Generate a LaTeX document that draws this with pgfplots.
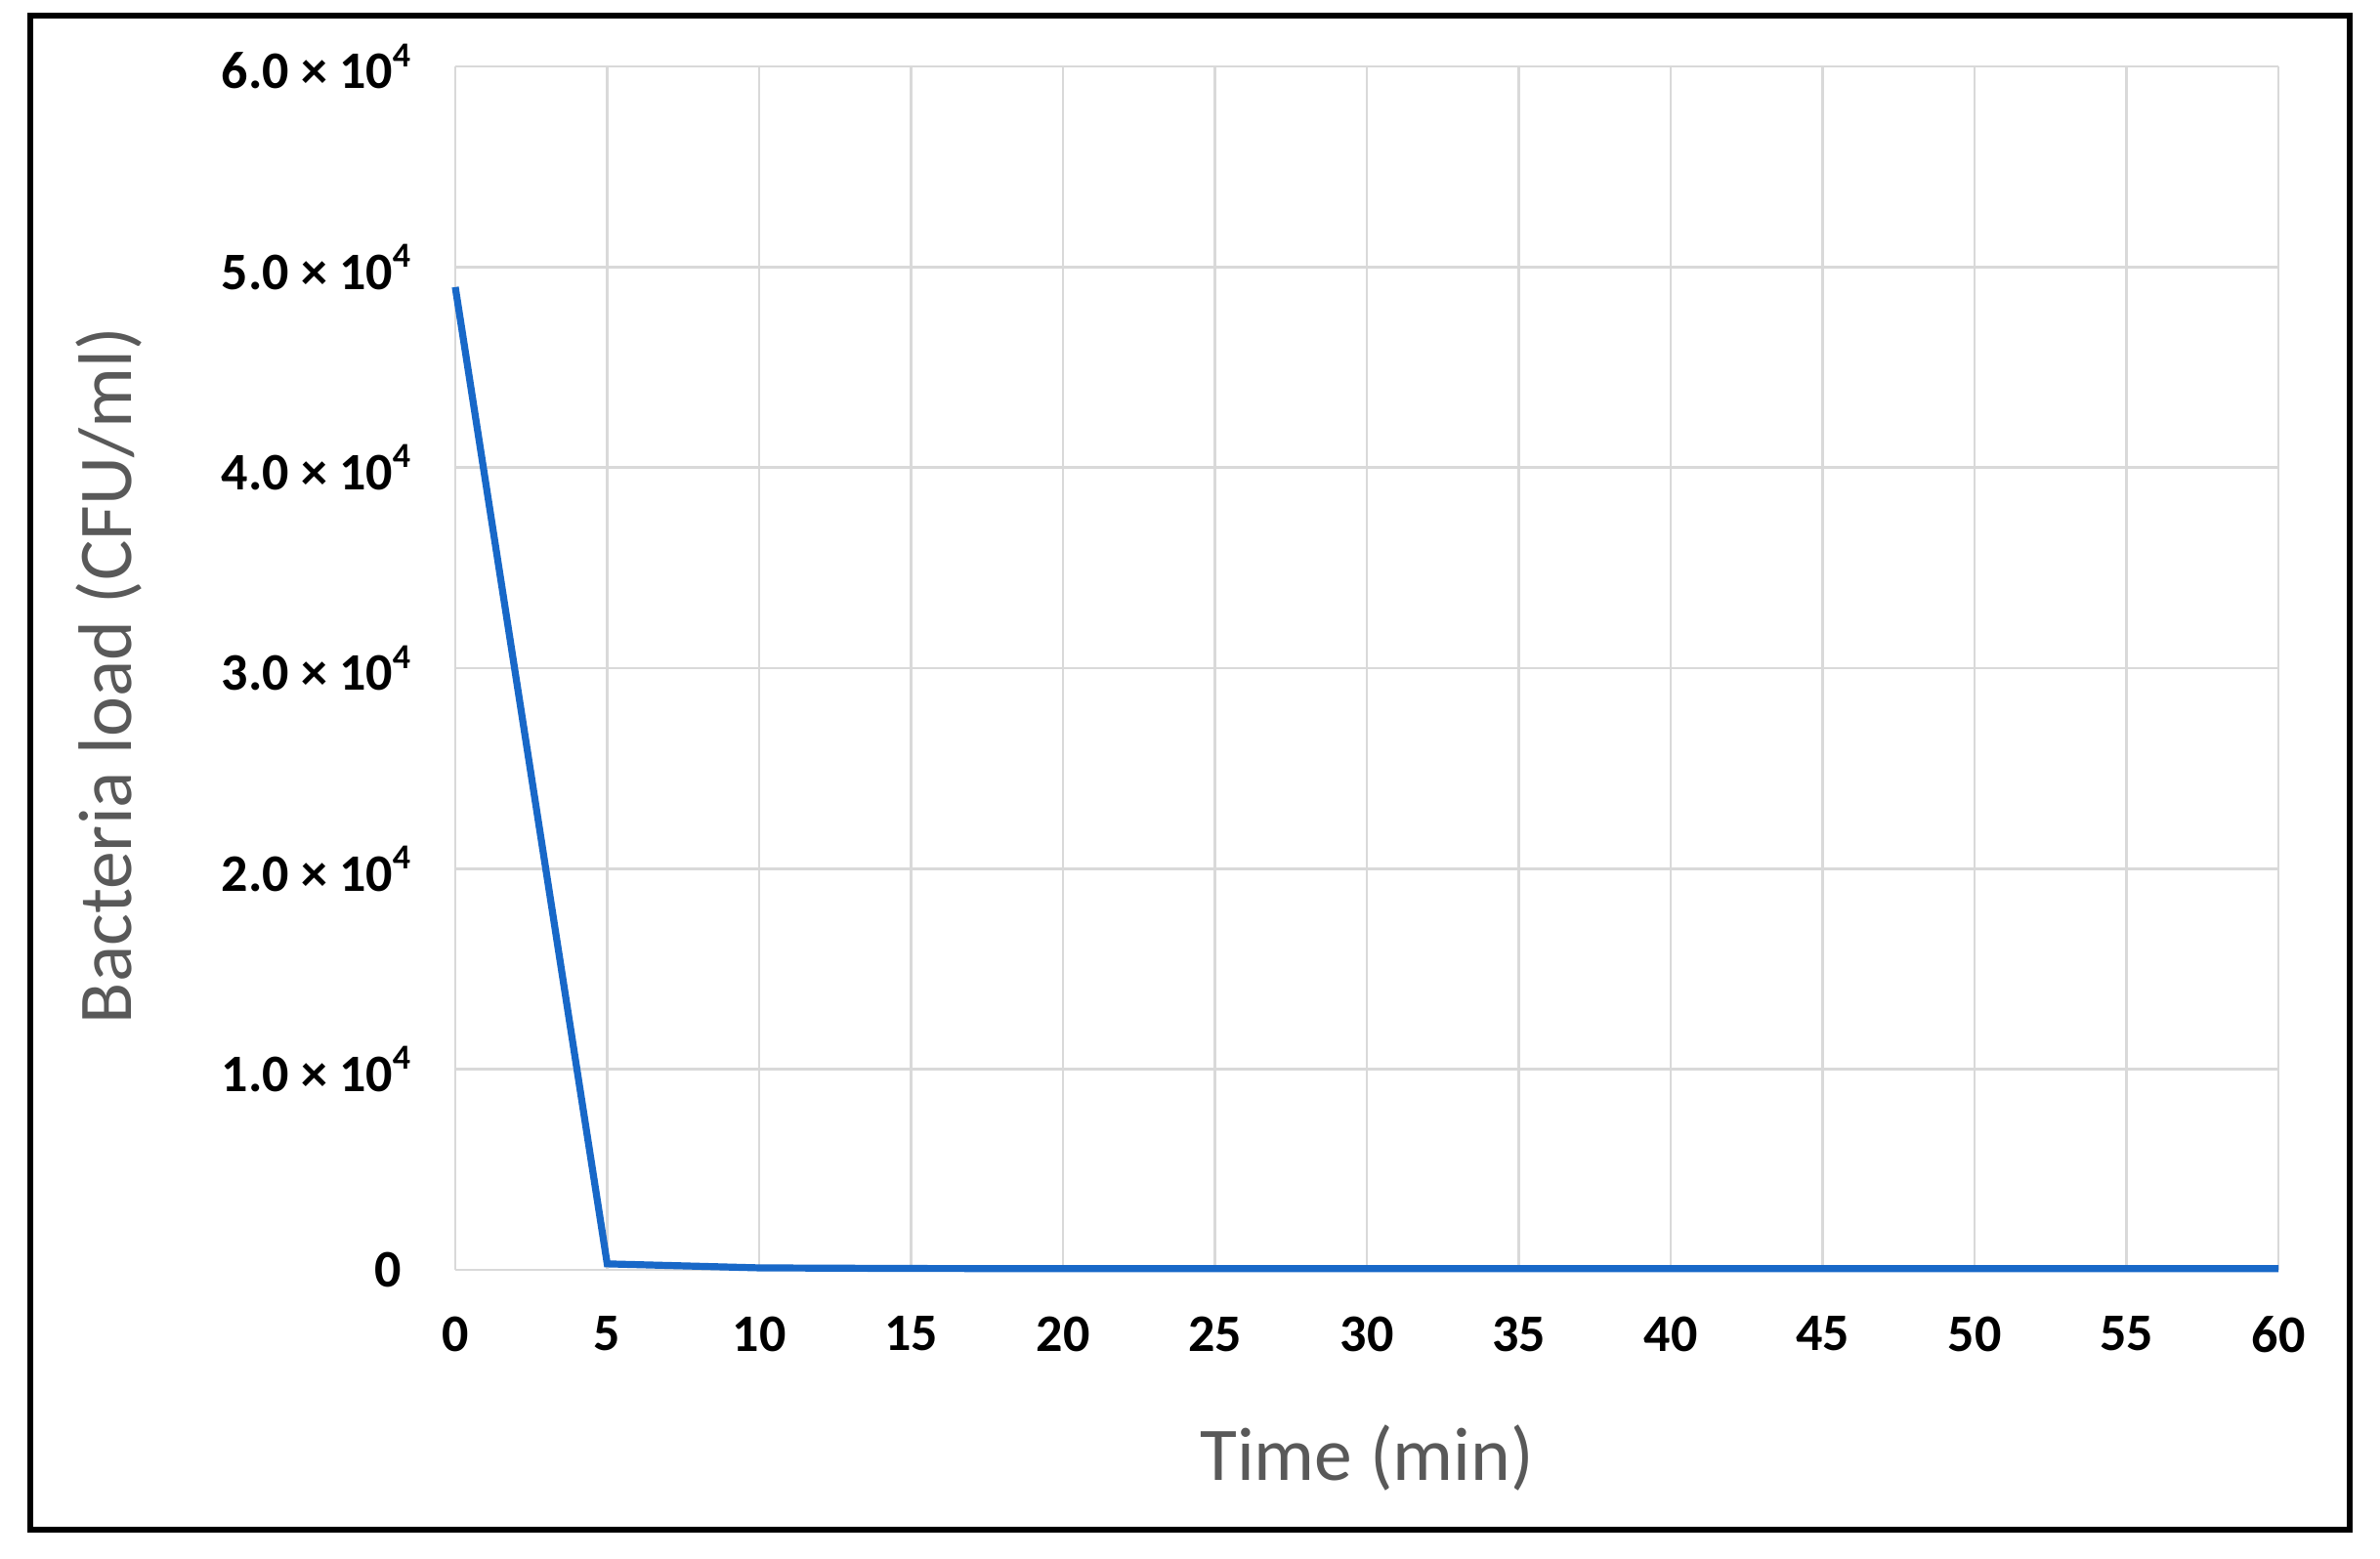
\documentclass[border=0pt]{standalone}
\usepackage{pgfplots}
\pgfplotsset{compat=1.18}
\usepackage{fontspec}
\setmainfont{Carlito}
\definecolor{gridgray}{RGB}{217,217,217}
\definecolor{labgray}{RGB}{89,89,89}
\definecolor{lineblue}{RGB}{24,104,200}
\newcommand{\supfour}{\raisebox{0.42em}{\fontsize{9}{10}\selectfont 4}}
\begin{document}
\begin{tikzpicture}
\path[fill=white] (-116.5pt,-73.75pt) rectangle (492.5pt,325pt);
\begin{axis}[
  at={(0,0)}, anchor=south west,
  scale only axis,
  width=466.5pt, height=308pt,
  xmin=0, xmax=60, ymin=0, ymax=60000,
  xtick={0,5,...,60},
  ytick={0,10000,20000,30000,40000,50000,60000},
  yticklabels={{0\hspace*{2.25pt}},
    {1.0 × 10\supfour},
    {2.0 × 10\supfour},
    {3.0 × 10\supfour},
    {4.0 × 10\supfour},
    {5.0 × 10\supfour},
    {6.0 × 10\supfour}},
  scaled y ticks=false,
  /pgf/number format/assume math mode=true,
  axis line style={draw=none},
  major tick length=0pt,
  xmajorgrids, ymajorgrids,
  grid style={gridgray, line width=0.7pt},
  tick label style={font=\fontsize{13.5}{16}\selectfont\bfseries, text=black, inner sep=0pt},
  xticklabel style={anchor=north, yshift=-11.75pt},
  yticklabel style={anchor=east, xshift=-11.25pt},
  xlabel={Time (min)},
  ylabel={Bacteria load (CFU/ml)},
  label style={font=\fontsize{19.4}{22}\selectfont, text=labgray},
  xlabel style={at={(axis description cs:0.5,0)}, anchor=base, yshift=-53.75pt},
  ylabel style={at={(axis description cs:-0.1774,0.494)}, anchor=base},
  clip=false,
]
\addplot[lineblue, line width=1.8pt, line join=miter] coordinates {
  (0,49000) (5,300) (10,100) (15,70) (20,60) (25,60) (30,60)
  (35,60) (40,60) (45,60) (50,60) (55,60) (60,60)
};
\end{axis}
\draw[black, line width=1.5pt] (-108.75pt,-66.5pt) rectangle (484.75pt,321pt);
\end{tikzpicture}
\end{document}
